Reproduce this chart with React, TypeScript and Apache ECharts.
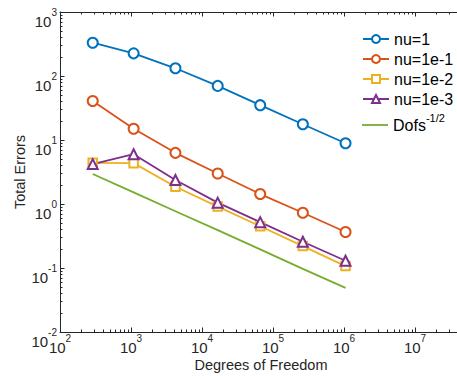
import React, { useEffect, useRef } from "react";
import * as echarts from "echarts";

const dofs = [289, 1089, 4225, 16641, 66049, 263169, 1050625];
const nu1 = [331, 226, 132, 70, 35, 17.6, 8.9];
const nu1e1 = [40.7, 15, 6.3, 3.0, 1.43, 0.73, 0.365];
const nu1e2 = [4.4, 4.35, 1.86, 0.91, 0.45, 0.22, 0.107];
const nu1e3 = [4.2, 6.0, 2.37, 1.05, 0.52, 0.257, 0.13];
const dofsRef = [2.94, 1.52, 0.77, 0.39, 0.195, 0.097, 0.049];

const seriesNames = ["nu=1", "nu=1e-1", "nu=1e-2", "nu=1e-3", "Dofs"];
const colors = ["#0072BD", "#D95319", "#EDB120", "#7E2F8E", "#77AC30"];
const xDecades = [2, 3, 4, 5, 6, 7, 8];
const yDecades = [-2, -1, 0, 1, 2, 3];

const X_MIN = 100;
const X_MAX = 1e8;
const Y_MIN = 0.01;
const Y_MAX = 1000;

const FONT = "'Liberation Sans', Arial, Helvetica, sans-serif";
const AXIS_COLOR = "#262626";

function minorTicks(decades: number[]): number[] {
  const out: number[] = [];
  for (let i = 0; i < decades.length - 1; i++) {
    for (let m = 2; m <= 9; m++) out.push(m * Math.pow(10, decades[i]));
  }
  return out;
}

function expLabel(v: number): string {
  const e = Math.round(Math.log10(v));
  if (e > 7) return "";
  return "{b|10}{s|" + e + "}";
}

const tickRich = {
  b: { fontSize: 15, lineHeight: 28, color: AXIS_COLOR, fontFamily: FONT },
  s: { fontSize: 10, lineHeight: 10, color: AXIS_COLOR, fontFamily: FONT, verticalAlign: "top" },
};

export default function App() {
  const ref = useRef<HTMLDivElement>(null);
  useEffect(() => {
    if (!ref.current) return;
    const chart = echarts.init(ref.current, undefined, { renderer: "svg" });
    const pair = (ys: number[]) => dofs.map((x, i) => [x, ys[i]]);
    const lineSeries = (name: string, ys: number[], color: string, symbol: string, size: number) => ({
      name,
      type: "line",
      data: pair(ys),
      symbol,
      symbolSize: size,
      showSymbol: symbol !== "none",
      lineStyle: { color, width: 1.8 },
      itemStyle: { color, borderColor: color, borderWidth: 1.6 },
      emphasis: { disabled: true },
      z: 3,
    });
    const titleText = {
      type: "text",
      x: 261,
      y: 365,
      style: {
        text: "Degrees of Freedom",
        fontSize: 14.5,
        fontFamily: FONT,
        fill: AXIS_COLOR,
        align: "center",
        verticalAlign: "middle",
      },
    };
    chart.setOption({
      animation: false,
      backgroundColor: "#ffffff",
      textStyle: { fontFamily: FONT },
      grid: { left: 60, top: 12, width: 426, height: 320, containLabel: false, outerBoundsMode: "none" },
      xAxis: [
        {
          type: "log",
          logBase: 10,
          min: X_MIN,
          max: X_MAX,
          splitNumber: 6,
          axisLine: { show: true, lineStyle: { color: AXIS_COLOR, width: 1 } },
          axisTick: { show: false },
          splitLine: { show: false },
          axisLabel: { formatter: expLabel, margin: 1, rich: tickRich, hideOverlap: false },
        },
        {
          type: "log",
          logBase: 10,
          min: X_MIN,
          max: X_MAX,
          splitNumber: 6,
          position: "top",
          axisLine: { show: true, lineStyle: { color: AXIS_COLOR, width: 1 } },
          axisTick: { show: false },
          splitLine: { show: false },
          axisLabel: { show: false },
        },
      ],
      yAxis: {
        type: "log",
        logBase: 10,
        min: Y_MIN,
        max: Y_MAX,
        splitNumber: 5,
        name: "Total Errors",
        nameLocation: "middle",
        nameGap: 33,
        nameMoveOverlap: false,
        nameTextStyle: { fontSize: 14.5, color: AXIS_COLOR, fontFamily: FONT },
        axisLine: { show: true, lineStyle: { color: AXIS_COLOR, width: 1 } },
        axisTick: { show: false },
        splitLine: { show: false },
        axisLabel: { formatter: expLabel, margin: 3, padding: [18, 0, 0, 0], rich: tickRich },
      },
      legend: [
        {
          data: seriesNames.slice(0, 4),
          orient: "vertical",
          left: 357,
          top: 24,
          itemWidth: 26,
          itemHeight: 10,
          itemGap: 0,
          textStyle: { fontSize: 16, lineHeight: 20, color: "#000", fontFamily: FONT },
        },
        {
          data: [{ name: "Dofs", icon: "rect" }],
          orient: "vertical",
          left: 357,
          top: 107,
          itemWidth: 26,
          itemHeight: 1.8,
          itemGap: 0,
          itemStyle: { borderWidth: 0 },
          formatter: () => "{b|Dofs}{s|-1/2}",
          textStyle: {
            fontSize: 16,
            color: "#000",
            fontFamily: FONT,
            rich: {
              b: { fontSize: 16, lineHeight: 26, color: "#000", fontFamily: FONT },
              s: { fontSize: 11, lineHeight: 11, color: "#000", fontFamily: FONT, verticalAlign: "top" },
            },
          },
        },
      ],
      graphic: [titleText],
      series: [
        lineSeries(seriesNames[0], nu1, colors[0], "emptyCircle", 10),
        lineSeries(seriesNames[1], nu1e1, colors[1], "emptyCircle", 10),
        lineSeries(seriesNames[2], nu1e2, colors[2], "emptyRect", 8.5),
        lineSeries(seriesNames[3], nu1e3, colors[3], "emptyTriangle", 10),
        lineSeries(seriesNames[4], dofsRef, colors[4], "none", 0),
      ],
    });

    // Axis ticks (major + minor) placed through the chart's own log scales.
    const ticks: any[] = [];
    const finder = { xAxisIndex: 0, yAxisIndex: 0 };
    const xMajor = xDecades.map((d) => Math.pow(10, d));
    const yMajor = yDecades.map((d) => Math.pow(10, d));
    const tickStyle = { stroke: AXIS_COLOR, lineWidth: 1 };
    const addX = (v: number, len: number) => {
      const pb = chart.convertToPixel(finder, [v, Y_MIN]) as number[];
      const pt = chart.convertToPixel(finder, [v, Y_MAX]) as number[];
      const x = Math.round(pb[0]) + 0.5;
      ticks.push({ type: "line", silent: true, z: 50, shape: { x1: x, y1: pb[1], x2: x, y2: pb[1] - len }, style: tickStyle });
      ticks.push({ type: "line", silent: true, z: 50, shape: { x1: x, y1: pt[1], x2: x, y2: pt[1] + len }, style: tickStyle });
    };
    const addY = (v: number, len: number) => {
      const p = chart.convertToPixel(finder, [X_MIN, v]) as number[];
      const y = Math.round(p[1]) + 0.5;
      ticks.push({ type: "line", silent: true, z: 50, shape: { x1: p[0], y1: y, x2: p[0] + len, y2: y }, style: tickStyle });
    };
    xMajor.forEach((v) => addX(v, 4.5));
    minorTicks(xDecades).forEach((v) => addX(v, 2.5));
    yMajor.forEach((v) => addY(v, 4.5));
    minorTicks(yDecades).forEach((v) => addY(v, 2.5));
    chart.setOption({ graphic: [titleText, ...ticks] }, { replaceMerge: ["graphic"] });

    return () => chart.dispose();
  }, []);
  return <div ref={ref} style={{ position: "fixed", left: 0, top: 0, width: 457, height: 376 }} />;
}
